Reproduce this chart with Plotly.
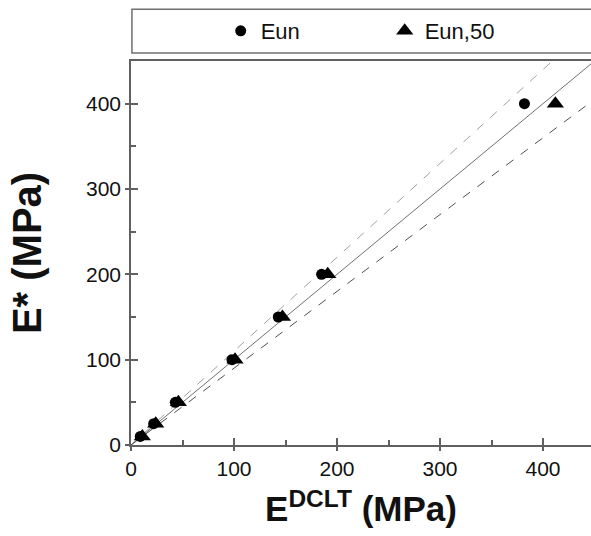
import plotly.graph_objects as go

# Data
eun_x = [9, 22, 43, 98, 143, 185, 382]
eun_y = [10, 25, 50, 100, 150, 200, 400]
eun50_x = [11, 24, 46, 101, 147, 191, 412]
eun50_y = [10, 25, 50, 100, 150, 200, 400]
ref_x = [0, 500]
line_eq = [0, 500]
line_up = [0, 550]
line_lo = [0, 450]
tick_vals = [0, 100, 200, 300, 400]

X_MAX = 446.6
Y_MAX = 450

AX = "#606060"
FONT = "Liberation Sans, Arial, sans-serif"

fig = go.Figure()
fig.add_trace(go.Scatter(x=ref_x, y=line_up, mode="lines", showlegend=False,
                         line=dict(color="#a0a0a0", width=1, dash="dash"), hoverinfo="skip"))
fig.add_trace(go.Scatter(x=ref_x, y=line_eq, mode="lines", showlegend=False,
                         line=dict(color="#707070", width=1), hoverinfo="skip"))
fig.add_trace(go.Scatter(x=ref_x, y=line_lo, mode="lines", showlegend=False,
                         line=dict(color="#505050", width=1, dash="dash"), hoverinfo="skip"))
fig.add_trace(go.Scatter(x=eun_x, y=eun_y, mode="markers", name="Eun",
                         marker=dict(symbol="circle", size=11, color="black")))
fig.add_trace(go.Scatter(x=eun50_x, y=eun50_y, mode="markers", name="Eun,50",
                         marker=dict(symbol="triangle-up", size=15, color="black")))
# invisible trace to anchor overlay axes (inside part of crossing ticks)
fig.add_trace(go.Scatter(x=[None], y=[None], xaxis="x2", yaxis="y2", showlegend=False,
                         hoverinfo="skip"))

common = dict(showgrid=False, zeroline=False, linecolor=AX, linewidth=1.5,
              tickcolor=AX, tickwidth=1.5, ticklen=4, ticks="outside",
              tickfont=dict(size=21, color="#111", family=FONT))

fig.update_layout(
    width=591, height=536,
    margin=dict(l=131, r=0, t=61, b=91),
    plot_bgcolor="white", paper_bgcolor="white",
    font=dict(family=FONT, color="#111"),
    xaxis=dict(range=[0, X_MAX], tickvals=tick_vals, mirror=True,
               minor=dict(tickvals=[50, 150, 250, 350, 450], ticks="inside", ticklen=5,
                          tickcolor=AX, tickwidth=1.5),
               title=dict(text="<b>E<sup>DCLT</sup> (MPa)</b>", font=dict(size=35, family=FONT, color="#111"),
                          standoff=18),
               **common),
    yaxis=dict(range=[0, Y_MAX], tickvals=tick_vals,
               minor=dict(tickvals=[50, 150, 250, 350], ticks="inside", ticklen=5,
                          tickcolor=AX, tickwidth=1.5),
               title=dict(text="<b>E* (MPa)</b>", font=dict(size=40, family=FONT, color="#111"),
                          standoff=32),
               **common),
    xaxis2=dict(range=[0, X_MAX], overlaying="x", tickvals=tick_vals, ticks="inside",
                ticklen=7, tickcolor=AX, tickwidth=1.5, showticklabels=False,
                showgrid=False, zeroline=False, showline=False),
    yaxis2=dict(range=[0, Y_MAX], overlaying="y", tickvals=tick_vals, ticks="inside",
                ticklen=7, tickcolor=AX, tickwidth=1.5, showticklabels=False,
                showgrid=False, zeroline=False, showline=False),
    legend=dict(orientation="h", x=0.195, xanchor="left", y=1.078, yanchor="middle",
                font=dict(size=22, family=FONT, color="#111"),
                bgcolor="rgba(0,0,0,0)", entrywidth=119, itemwidth=30),
    shapes=[dict(type="rect", xref="paper", yref="paper",
                 x0=0.002, x1=1.05, y0=1.0208, y1=1.135,
                 line=dict(color="#707070", width=1.5), fillcolor="rgba(0,0,0,0)")],
)

fig.write_html(
    "out.html",
    config={"displayModeBar": False},
    post_script="document.body.style.margin='0';document.body.style.overflow='hidden';",
)
